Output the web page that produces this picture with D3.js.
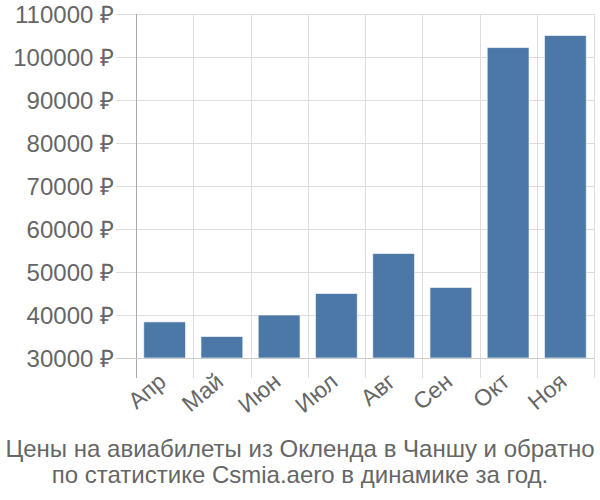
<!DOCTYPE html>
<html>
<head>
<meta charset="utf-8">
<script src="https://cdn.jsdelivr.net/npm/d3@7"></script>
<style>
  body { margin: 0; background: #fff; }
  text { font-family: "Liberation Sans", Arial, sans-serif; }
</style>
</head>
<body>
<script>
// data
var months = ["Апр", "Май", "Июн", "Июл", "Авг", "Сен", "Окт", "Ноя"];
var prices = [38400, 35000, 40000, 45000, 54300, 46400, 102200, 105000];
var yTicks = [30000, 40000, 50000, 60000, 70000, 80000, 90000, 100000, 110000];
var titleLines = ["Цены на авиабилеты из Окленда в Чаншу и обратно",
                  "по статистике Csmia.aero в динамике за год."];

var width = 600, height = 500;
var plotLeft = 136, plotRight = 594, plotTop = 14, plotBottom = 358;

var svg = d3.select("body").append("svg")
    .attr("width", width)
    .attr("height", height);

// set the ranges
var x = d3.scaleBand().domain(months).range([plotLeft, plotRight]).paddingInner(0.27).paddingOuter(0.135);
var xGrid = d3.scaleBand().domain(months).range([plotLeft, plotRight]);
var y = d3.scaleLinear().domain([30000, 110000]).range([plotBottom, plotTop]);

// horizontal grid lines (with tick stubs to the left)
svg.append("g").selectAll("line")
    .data(yTicks)
  .enter().append("line")
    .attr("x1", plotLeft - 20)
    .attr("x2", plotRight)
    .attr("y1", function(d) { return Math.round(y(d)) + 0.5; })
    .attr("y2", function(d) { return Math.round(y(d)) + 0.5; })
    .attr("stroke", "#ddd");

// vertical grid lines at band edges
var edges = months.map(function(m) { return xGrid(m); }).concat([plotRight]);
svg.append("g").selectAll("line")
    .data(edges)
  .enter().append("line")
    .attr("x1", function(d) { return Math.round(d) + 0.5; })
    .attr("x2", function(d) { return Math.round(d) + 0.5; })
    .attr("y1", plotTop)
    .attr("y2", plotBottom + 20)
    .attr("stroke", "#ddd");

// bars
svg.append("g").selectAll("rect")
    .data(prices)
  .enter().append("rect")
    .attr("x", function(d, i) { return x(months[i]); })
    .attr("width", x.bandwidth())
    .attr("y", function(d) { return y(d); })
    .attr("height", function(d) { return plotBottom - y(d); })
    .attr("fill", "#4c78a8")
    .attr("stroke", "#fff")
    .attr("stroke-opacity", 0.6)
    .attr("stroke-width", 1);

// axis lines
svg.append("line")
    .attr("x1", plotLeft + 0.5).attr("x2", plotLeft + 0.5)
    .attr("y1", plotTop).attr("y2", plotBottom + 20)
    .attr("stroke", "#aaa");
svg.append("line")
    .attr("x1", plotLeft - 20).attr("x2", plotRight)
    .attr("y1", plotBottom + 0.5).attr("y2", plotBottom + 0.5)
    .attr("stroke", "#ccc");

// y tick labels
svg.append("g").selectAll("text")
    .data(yTicks)
  .enter().append("text")
    .attr("x", plotLeft - 22)
    .attr("y", function(d) { return y(d); })
    .attr("dy", "0.36em")
    .attr("text-anchor", "end")
    .attr("font-size", "24px")
    .attr("fill", "#666")
    .text(function(d) { return d + " ₽"; });

// x tick labels
svg.append("g").selectAll("text")
    .data(months)
  .enter().append("text")
    .attr("transform", function(d) {
        return "translate(" + (xGrid(d) + xGrid.bandwidth() / 2 + 3) + "," + (plotBottom + 26) + ") rotate(-40)";
    })
    .attr("text-anchor", "end")
    .attr("font-size", "23px")
    .attr("fill", "#666")
    .text(function(d) { return d; });

// title
svg.append("g").selectAll("text")
    .data(titleLines)
  .enter().append("text")
    .attr("x", width / 2)
    .attr("y", function(d, i) { return 457 + i * 26; })
    .attr("text-anchor", "middle")
    .attr("font-size", "24px")
    .attr("fill", "#666")
    .text(function(d) { return d; });
</script>
</body>
</html>
